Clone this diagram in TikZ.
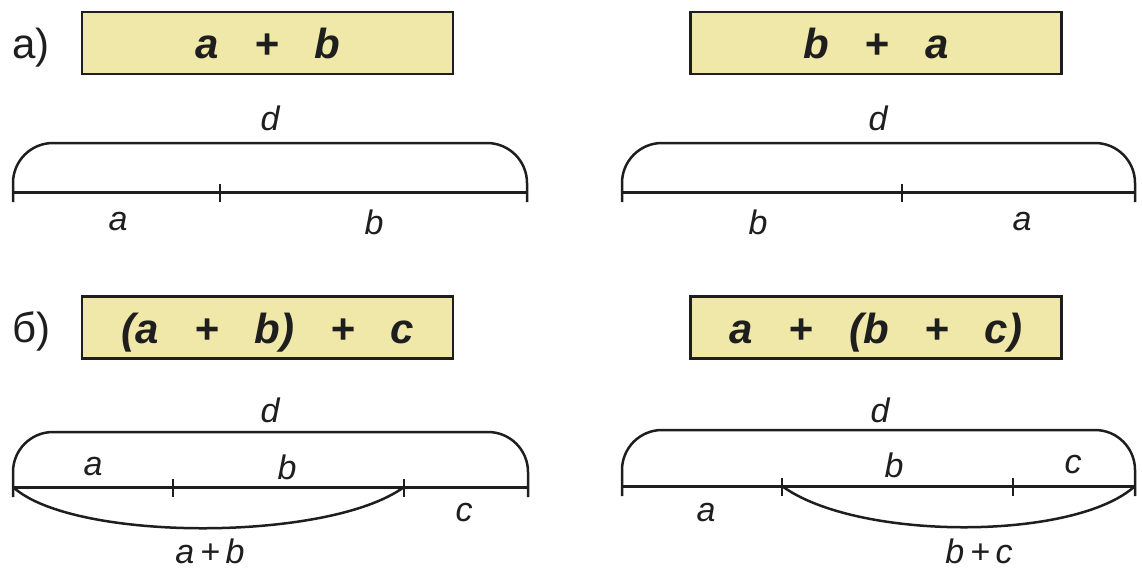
\documentclass[tikz,border=0pt]{standalone}
\usepackage{fontspec}
\setmainfont{Liberation Sans}
\definecolor{BoxFill}{HTML}{EFE8A8}
\definecolor{InkBlack}{HTML}{1E1E1E}
\newcommand{\plusgap}{\hspace{0.85em}+\hspace{0.85em}}
\tikzset{
    exprbox/.style={
        draw=InkBlack,
        fill=BoxFill,
        line width=2.5pt,
        minimum width=371pt,
        minimum height=62pt,
        text=InkBlack,
        font=\fontsize{42}{50}\selectfont\bfseries\itshape,
        text height=31pt,
        text depth=0pt,
        inner sep=0pt
    },
    seglabel/.style={
        text=InkBlack,
        font=\fontsize{34}{40}\selectfont\itshape,
        inner sep=0pt
    },
    partlabel/.style={
        text=InkBlack,
        font=\fontsize{42}{50}\selectfont,
        inner sep=0pt
    },
    segline/.style={
        line width=3pt,
        InkBlack
    },
    bracket/.style={
        line width=2.5pt,
        InkBlack,
        rounded corners=40pt
    },
    tickmark/.style={
        line width=2pt,
        InkBlack
    },
    sumarc/.style={
        line width=2.5pt,
        InkBlack
    }
}
\begin{document}
\begin{tikzpicture}[x=1pt, y=-1pt]
    \useasboundingbox (0,0) rectangle (1142,571);

    % row a
    \node[partlabel, anchor=base west] (parta) at (12,58) {а)};
    \node[exprbox] (ab) at (267.5,43) {a\plusgap b};
    \node[exprbox] (ba) at (876,43) {b\plusgap a};

    % a + b segment
    \coordinate (A0) at (13,192);
    \coordinate (A1) at (220,192);
    \coordinate (A2) at (527,192);
    \coordinate (Ad) at (270,143);
    \draw[segline] (A0) -- (A2);
    \draw[tickmark] ([yshift=8pt]A1) -- ([yshift=-10pt]A1);
    \draw[bracket] ([yshift=-10pt]A0) -- (A0 |- Ad) -- (A2 |- Ad) -- ([yshift=-10pt]A2);
    \node[seglabel] (Ald) at (270,118) {d};
    \node[seglabel] (Ala) at (118,222) {a};
    \node[seglabel] (Alb) at (374,222) {b};

    % b + a segment
    \coordinate (B0) at (622,192);
    \coordinate (B1) at (902,192);
    \coordinate (B2) at (1135,192);
    \coordinate (Bd) at (878,143);
    \draw[segline] (B0) -- (B2);
    \draw[tickmark] ([yshift=8pt]B1) -- ([yshift=-10pt]B1);
    \draw[bracket] ([yshift=-10pt]B0) -- (B0 |- Bd) -- (B2 |- Bd) -- ([yshift=-10pt]B2);
    \node[seglabel] (Brd) at (878,118) {d};
    \node[seglabel] (Brb) at (758,222) {b};
    \node[seglabel] (Bra) at (1022,222) {a};

    % row b
    \node[partlabel, anchor=base west] (partb) at (12,342) {б)};
    \node[exprbox] (abc) at (267.5,327.5) {(a\plusgap b)\plusgap c};
    \node[exprbox] (bca) at (876,327.5) {a\plusgap(b\plusgap c)};

    % (a + b) + c segment
    \coordinate (C0) at (13,487);
    \coordinate (C1) at (173,487);
    \coordinate (C2) at (404,487);
    \coordinate (C3) at (528,487);
    \coordinate (Cd) at (270,432);
    \draw[segline] (C0) -- (C3);
    \foreach \t in {C1,C2}
        \draw[tickmark] ([yshift=8pt]\t) -- ([yshift=-10pt]\t);
    \draw[bracket] ([yshift=-10pt]C0) -- (C0 |- Cd) -- (C3 |- Cd) -- ([yshift=-10pt]C3);
    \draw[sumarc] (C0) .. controls +(60,55) and +(-75,55) .. (C2);
    \node[seglabel] (Cld) at (270,410) {d};
    \node[seglabel] (Cla) at (93,467) {a};
    \node[seglabel] (Clb) at (287,467) {b};
    \node[seglabel] (Clc) at (464,513) {c};
    \node[seglabel] (Clab) at (210,551) {a\,+\,b};

    % a + (b + c) segment
    \coordinate (D0) at (622,486);
    \coordinate (D1) at (782,486);
    \coordinate (D2) at (1013,486);
    \coordinate (D3) at (1135,486);
    \coordinate (Dd) at (880,430);
    \draw[segline] (D0) -- (D3);
    \foreach \t in {D1,D2}
        \draw[tickmark] ([yshift=8pt]\t) -- ([yshift=-10pt]\t);
    \draw[bracket] ([yshift=-10pt]D0) -- (D0 |- Dd) -- (D3 |- Dd) -- ([yshift=-10pt]D3);
    \draw[sumarc] (D1) .. controls +(75,55) and +(-60,55) .. (D3);
    \node[seglabel] (Drd) at (880,410) {d};
    \node[seglabel] (Dra) at (706,513) {a};
    \node[seglabel] (Drb) at (894,465) {b};
    \node[seglabel] (Drc) at (1073,465) {c};
    \node[seglabel] (Drbc) at (979,551) {b\,+\,c};
\end{tikzpicture}
\end{document}
